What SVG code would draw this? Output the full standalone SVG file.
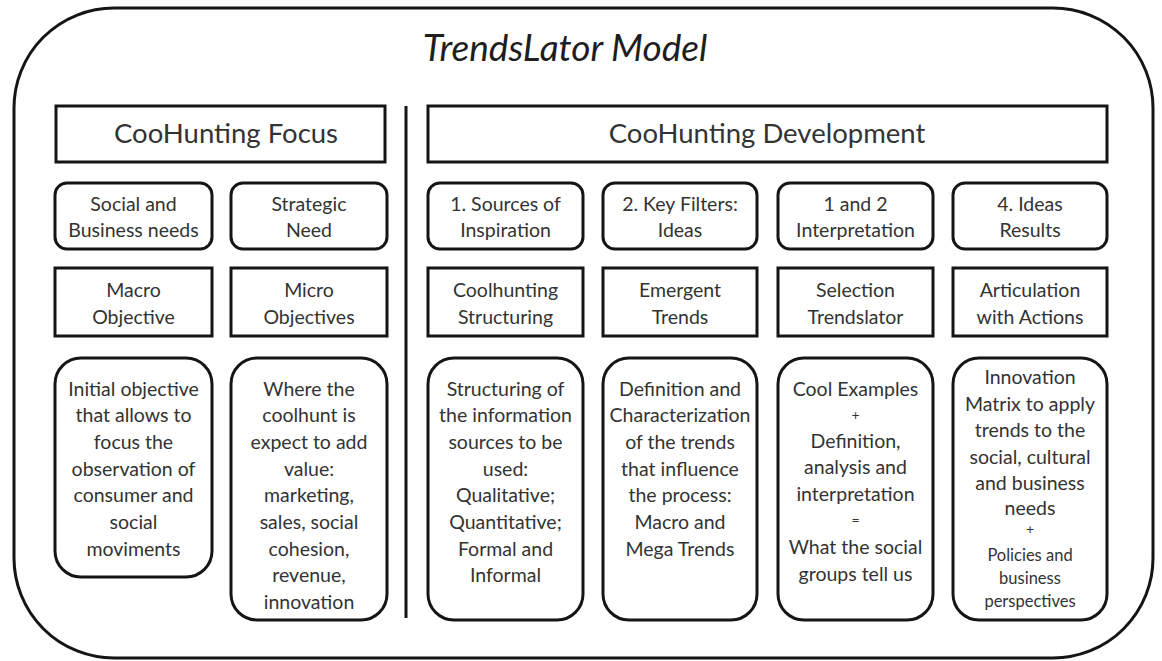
<svg xmlns="http://www.w3.org/2000/svg" width="1162" height="661" viewBox="0 0 1162 661">
  <style>
    .frame { fill: none; stroke: #151515; stroke-width: 3; }
    .box { fill: #ffffff; stroke: #151515; stroke-width: 3; }
    text { font-family: Lato, "Open Sans", "Liberation Sans", sans-serif; fill: #333333; text-anchor: middle; }
    .title { font-size: 37px; font-style: italic; fill: #1e1e1e; }
    .head { font-size: 27.5px; }
    .lbl { font-size: 19.5px; }
    .desc { font-size: 19.5px; }
    .small { font-size: 16.5px; }
    .sign { font-size: 14px; }
  </style>
  <rect fill="#ffffff" x="0" y="0" width="1162" height="661"/>

  <!-- outer frame and title -->
  <g id="frame">
    <rect class="frame" x="14" y="8" width="1139" height="650" rx="100" ry="100"/>
    <text class="title" x="565" y="61">TrendsLator Model</text>
  </g>

  <!-- separator between the two halves -->
  <g id="divider">
    <line x1="406" y1="106" x2="406" y2="618" stroke="#151515" stroke-width="3"/>
  </g>

  <!-- headers -->
  <g id="focus-header">
    <rect class="box" x="56" y="106" width="329" height="56"/>
    <text class="head" x="226" y="143">CooHunting Focus</text>
  </g>
  <g id="development-header">
    <rect class="box" x="428" y="106" width="679" height="56"/>
    <text class="head" x="767" y="143">CooHunting Development</text>
  </g>

  <!-- row 2: needs / stages -->
  <g id="social-business-needs">
    <rect class="box" x="55" y="183" width="157" height="66" rx="12"/>
    <text class="lbl" x="133.5" y="211">Social and</text>
    <text class="lbl" x="133.5" y="237">Business needs</text>
  </g>
  <g id="strategic-need">
    <rect class="box" x="231" y="183" width="156" height="66" rx="12"/>
    <text class="lbl" x="309" y="211">Strategic</text>
    <text class="lbl" x="309" y="237">Need</text>
  </g>
  <g id="sources-of-inspiration">
    <rect class="box" x="428" y="183" width="155" height="66" rx="12"/>
    <text class="lbl" x="505.5" y="211">1. Sources of</text>
    <text class="lbl" x="505.5" y="237">Inspiration</text>
  </g>
  <g id="key-filters">
    <rect class="box" x="603" y="183" width="154" height="66" rx="12"/>
    <text class="lbl" x="680" y="211">2. Key Filters:</text>
    <text class="lbl" x="680" y="237">Ideas</text>
  </g>
  <g id="interpretation">
    <rect class="box" x="778" y="183" width="155" height="66" rx="12"/>
    <text class="lbl" x="855.5" y="211">1 and 2</text>
    <text class="lbl" x="855.5" y="237">Interpretation</text>
  </g>
  <g id="ideas-results">
    <rect class="box" x="953" y="183" width="154" height="66" rx="12"/>
    <text class="lbl" x="1030" y="211">4. Ideas</text>
    <text class="lbl" x="1030" y="237">Results</text>
  </g>

  <!-- row 3: objectives / activities -->
  <g id="macro-objective">
    <rect class="box" x="55" y="268" width="157" height="68"/>
    <text class="lbl" x="133.5" y="297">Macro</text>
    <text class="lbl" x="133.5" y="324">Objective</text>
  </g>
  <g id="micro-objectives">
    <rect class="box" x="231" y="268" width="156" height="68"/>
    <text class="lbl" x="309" y="297">Micro</text>
    <text class="lbl" x="309" y="324">Objectives</text>
  </g>
  <g id="coolhunting-structuring">
    <rect class="box" x="428" y="268" width="155" height="68"/>
    <text class="lbl" x="505.5" y="297">Coolhunting</text>
    <text class="lbl" x="505.5" y="324">Structuring</text>
  </g>
  <g id="emergent-trends">
    <rect class="box" x="603" y="268" width="154" height="68"/>
    <text class="lbl" x="680" y="297">Emergent</text>
    <text class="lbl" x="680" y="324">Trends</text>
  </g>
  <g id="selection-trendslator">
    <rect class="box" x="778" y="268" width="155" height="68"/>
    <text class="lbl" x="855.5" y="297">Selection</text>
    <text class="lbl" x="855.5" y="324">Trendslator</text>
  </g>
  <g id="articulation-actions">
    <rect class="box" x="953" y="268" width="154" height="68"/>
    <text class="lbl" x="1030" y="297">Articulation</text>
    <text class="lbl" x="1030" y="324">with Actions</text>
  </g>

  <!-- row 4: descriptions -->
  <g id="initial-objective">
    <rect class="box" x="55" y="358" width="157" height="219" rx="26"/>
    <text class="desc" x="133.5" y="396">Initial objective</text>
    <text class="desc" x="133.5" y="422">that allows to</text>
    <text class="desc" x="133.5" y="449">focus the</text>
    <text class="desc" x="133.5" y="476">observation of</text>
    <text class="desc" x="133.5" y="502">consumer and</text>
    <text class="desc" x="133.5" y="529">social</text>
    <text class="desc" x="133.5" y="556">moviments</text>
  </g>
  <g id="added-value">
    <rect class="box" x="231" y="358" width="156" height="262" rx="26"/>
    <text class="desc" x="309" y="396">Where the</text>
    <text class="desc" x="309" y="422">coolhunt is</text>
    <text class="desc" x="309" y="449">expect to add</text>
    <text class="desc" x="309" y="476">value:</text>
    <text class="desc" x="309" y="502">marketing,</text>
    <text class="desc" x="309" y="529">sales, social</text>
    <text class="desc" x="309" y="556">cohesion,</text>
    <text class="desc" x="309" y="582">revenue,</text>
    <text class="desc" x="309" y="609">innovation</text>
  </g>
  <g id="information-sources">
    <rect class="box" x="428" y="358" width="155" height="262" rx="26"/>
    <text class="desc" x="505.5" y="396">Structuring of</text>
    <text class="desc" x="505.5" y="422">the information</text>
    <text class="desc" x="505.5" y="449">sources to be</text>
    <text class="desc" x="505.5" y="476">used:</text>
    <text class="desc" x="505.5" y="502">Qualitative;</text>
    <text class="desc" x="505.5" y="529">Quantitative;</text>
    <text class="desc" x="505.5" y="556">Formal and</text>
    <text class="desc" x="505.5" y="582">Informal</text>
  </g>
  <g id="trend-definition">
    <rect class="box" x="603" y="358" width="154" height="262" rx="26"/>
    <text class="desc" x="680" y="396">Definition and</text>
    <text class="desc" x="680" y="422">Characterization</text>
    <text class="desc" x="680" y="449">of the trends</text>
    <text class="desc" x="680" y="476">that influence</text>
    <text class="desc" x="680" y="502">the process:</text>
    <text class="desc" x="680" y="529">Macro and</text>
    <text class="desc" x="680" y="556">Mega Trends</text>
  </g>
  <g id="cool-examples">
    <rect class="box" x="778" y="358" width="155" height="262" rx="26"/>
    <text class="desc" x="855.5" y="396">Cool Examples</text>
    <text class="sign" x="855.5" y="420">+</text>
    <text class="desc" x="855.5" y="448">Definition,</text>
    <text class="desc" x="855.5" y="474">analysis and</text>
    <text class="desc" x="855.5" y="501">interpretation</text>
    <text class="sign" x="855.5" y="525">=</text>
    <text class="desc" x="855.5" y="554">What the social</text>
    <text class="desc" x="855.5" y="581">groups tell us</text>
  </g>
  <g id="innovation-matrix">
    <rect class="box" x="953" y="358" width="154" height="262" rx="26"/>
    <text class="desc" x="1030" y="384">Innovation</text>
    <text class="desc" x="1030" y="411">Matrix to apply</text>
    <text class="desc" x="1030" y="437">trends to the</text>
    <text class="desc" x="1030" y="464">social, cultural</text>
    <text class="desc" x="1030" y="490">and business</text>
    <text class="desc" x="1030" y="515">needs</text>
    <text class="sign" x="1030" y="534">+</text>
    <text class="small" x="1030" y="561">Policies and</text>
    <text class="small" x="1030" y="584">business</text>
    <text class="small" x="1030" y="607">perspectives</text>
  </g>
</svg>
